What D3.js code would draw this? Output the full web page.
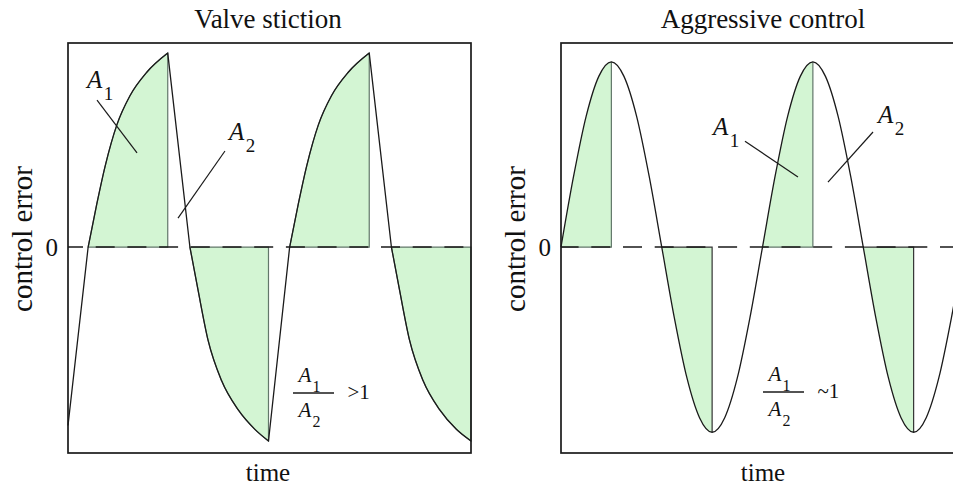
<!DOCTYPE html>
<html>
<head>
<meta charset="utf-8">
<script src="https://cdn.jsdelivr.net/npm/d3@7"></script>
<style>
  html, body { margin: 0; padding: 0; background: #fff; }
  svg { display: block; }
  text { font-family: "Liberation Serif", "Times New Roman", serif; fill: #111; }
</style>
</head>
<body>
<svg id="chart" width="953" height="485"></svg>
<script>
// ---- data -------------------------------------------------------------
const panelTitles = ["Valve stiction", "Aggressive control"];
const axisTitleY = "control error";
const axisTitleX = "time";
const zeroTick = [0];
const ratioSigns = [">1", "~1"];

// Valve stiction: the trace opens on a steep jump, then each arc runs
// from a zero crossing to the following extreme ([time, error]).
const stictionStart = [0, -0.92];
const stictionArcs = [
  [[2.0, 0], [2.85, 0.22], [3.7, 0.42], [4.85, 0.63], [6.15, 0.78], [7.8, 0.90], [9.9, 1.0]],
  [[12.1, 0], [12.9, -0.22], [13.9, -0.48], [15.25, -0.69], [16.9, -0.84], [18.55, -0.94], [19.9, -1.0]],
  [[22.0, 0], [22.85, 0.22], [23.7, 0.42], [24.85, 0.63], [26.15, 0.78], [27.8, 0.90], [29.9, 1.0]],
  [[32.1, 0], [32.9, -0.22], [33.9, -0.48], [35.25, -0.69], [36.9, -0.84], [38.55, -0.94], [40.0, -1.0]]
];

// Aggressive control: smooth oscillation
const aggressiveTime = [0, 1.25, 2.5, 3.75, 5, 6.25, 7.5, 8.75, 10, 11.25, 12.5, 13.75, 15, 16.25, 17.5, 18.75,
  20, 21.25, 22.5, 23.75, 25, 26.25, 27.5, 28.75, 30, 31.25, 32.5, 33.75, 35, 36.25, 37.5, 38.75, 40];
const aggressiveValue = [0, 0.365, 0.675, 0.88, 0.955, 0.88, 0.675, 0.365, 0, -0.365, -0.675, -0.88, -0.955, -0.88, -0.675, -0.365,
  0, 0.365, 0.675, 0.88, 0.955, 0.88, 0.675, 0.365, 0, -0.365, -0.675, -0.88, -0.955, -0.88, -0.675, -0.365, 0];
// shaded stretches: zero crossing -> extreme
const aggressiveSpans = [[0, 5], [10, 15], [20, 25], [30, 35]];

// ---- layout -----------------------------------------------------------
const fillColor = "#d3f5d3";
const edgeColor = "#62776a";
const inkColor = "#1a1a1a";
const plotTop = 43, plotBottom = 453, panelW = 403;
const panelLeft = [68, 561];

const svg = d3.select("#chart");
const defs = svg.append("defs");
const y = d3.scaleLinear().domain([-1.062, 1.052]).range([plotBottom, plotTop]);
const xs = panelLeft.map(l => d3.scaleLinear().domain([0, 40]).range([l, l + panelW]));

// ---- titles, axis labels ---------------------------------------------
panelTitles.forEach((t, i) => {
  const x = xs[i];
  const cx = i === 0 ? 268 : 763;
  svg.append("text").attr("x", cx).attr("y", 28)
    .attr("text-anchor", "middle").attr("font-size", 27).text(t);
  svg.append("text").attr("x", cx).attr("y", 481)
    .attr("text-anchor", "middle").attr("font-size", 25).text(axisTitleX);
  const ax = x.range()[0] - 36;
  svg.append("text")
    .attr("transform", `translate(${ax},239) rotate(-90)`)
    .attr("text-anchor", "middle").attr("font-size", 29).text(axisTitleY);
  const axis = d3.axisLeft(y).tickValues(zeroTick).tickSize(0).tickPadding(10)
    .tickFormat(d3.format("d"));
  const g = svg.append("g").attr("transform", `translate(${x.range()[0]},0)`).call(axis);
  g.select(".domain").remove();
  g.selectAll("text").attr("font-size", 25).attr("font-family", "Liberation Serif, serif")
    .attr("fill", "#111").attr("dy", "0.34em");
});

// ---- valve stiction ---------------------------------------------------
{
  const x = xs[0];
  const line = d3.line().x(d => x(d[0])).y(d => y(d[1])).curve(d3.curveMonotoneX);
  const area = d3.area().x(d => x(d[0])).y0(y(0)).y1(d => y(d[1])).curve(d3.curveMonotoneX);

  stictionArcs.forEach(arc => {
    svg.append("path").attr("d", area(arc))
      .attr("fill", fillColor).attr("stroke", edgeColor).attr("stroke-width", 1.2);
  });

  svg.append("line").attr("x1", x(0)).attr("x2", x(40)).attr("y1", y(0)).attr("y2", y(0))
    .attr("stroke", inkColor).attr("stroke-width", 1.4)
    .attr("stroke-dasharray", "19,12.7").attr("stroke-dashoffset", 4);

  let d = `M${x(stictionStart[0])},${y(stictionStart[1])}`;
  stictionArcs.forEach(arc => { d += line(arc).replace(/^M/, "L"); });
  svg.append("path").attr("d", d).attr("fill", "none")
    .attr("stroke", inkColor).attr("stroke-width", 1.3).attr("stroke-linejoin", "round");
}

// ---- aggressive control ----------------------------------------------
{
  const x = xs[1];
  const pts = aggressiveTime.map((t, i) => [t, aggressiveValue[i]]);
  const line = d3.line().x(d => x(d[0])).y(d => y(d[1])).curve(d3.curveMonotoneX);
  const area = d3.area().x(d => x(d[0])).y0(y(0)).y1(d => y(d[1])).curve(d3.curveMonotoneX);

  aggressiveSpans.forEach((s, i) => {
    const id = "span" + i;
    defs.append("clipPath").attr("id", id).append("rect")
      .attr("x", x(s[0])).attr("width", x(s[1]) - x(s[0]))
      .attr("y", plotTop).attr("height", plotBottom - plotTop);
    svg.append("path").attr("d", area(pts)).attr("fill", fillColor)
      .attr("clip-path", `url(#${id})`);
    const vEnd = aggressiveValue[aggressiveTime.indexOf(s[1])];
    svg.append("path")
      .attr("d", `M${x(s[0])},${y(0)}L${x(s[1])},${y(0)}L${x(s[1])},${y(vEnd)}`)
      .attr("fill", "none").attr("stroke", vEnd < 0 ? "#333" : edgeColor).attr("stroke-width", 1.2);
  });

  svg.append("line").attr("x1", x(0)).attr("x2", x(40)).attr("y1", y(0)).attr("y2", y(0))
    .attr("stroke", inkColor).attr("stroke-width", 1.4)
    .attr("stroke-dasharray", "19,12.7").attr("stroke-dashoffset", 1.4);

  svg.append("path").attr("d", line(pts)).attr("fill", "none")
    .attr("stroke", inkColor).attr("stroke-width", 1.3);
}

// frames drawn last so they sit above the traces
xs.forEach(x => {
  svg.append("rect").attr("x", x.range()[0]).attr("y", plotTop)
    .attr("width", panelW).attr("height", plotBottom - plotTop)
    .attr("fill", "none").attr("stroke", inkColor).attr("stroke-width", 1.7);
});

// ---- area annotations -------------------------------------------------
function areaLabel(px, py, sub, size) {
  const t = svg.append("text").attr("x", px).attr("y", py).attr("font-size", size);
  t.append("tspan").attr("font-style", "italic").text("A");
  t.append("tspan").attr("font-size", size * 0.76).attr("dx", size * 0.06).attr("dy", size * 0.46).text(sub);
}
function leader(x, a, b) {
  svg.append("line").attr("x1", x(a[0])).attr("y1", y(a[1]))
    .attr("x2", x(b[0])).attr("y2", y(b[1]))
    .attr("stroke", inkColor).attr("stroke-width", 1.2);
}
function ratio(cx, yBar, sign) {
  svg.append("line").attr("x1", cx - 20.5).attr("x2", cx + 20.5).attr("y1", yBar).attr("y2", yBar)
    .attr("stroke", inkColor).attr("stroke-width", 1.3);
  areaLabel(cx - 15, yBar - 11, "1", 21);
  areaLabel(cx - 15, yBar + 24, "2", 21);
  svg.append("text").attr("x", cx + 34).attr("y", yBar + 6).attr("font-size", 21).text(sign);
}

// valve stiction panel
areaLabel(87, 88, "1", 25);
areaLabel(229, 140, "2", 25);
leader(xs[0], [2.88, 0.758], [6.85, 0.485]);
leader(xs[0], [15.58, 0.495], [10.92, 0.149]);
ratio(313.5, 393, ratioSigns[0]);

// aggressive control panel
areaLabel(713, 135, "1", 25);
areaLabel(878, 123, "2", 25);
leader(xs[1], [18.26, 0.546], [23.52, 0.361]);
leader(xs[1], [30.97, 0.593], [26.5, 0.335]);
ratio(783.5, 392, ratioSigns[1]);
</script>
</body>
</html>
